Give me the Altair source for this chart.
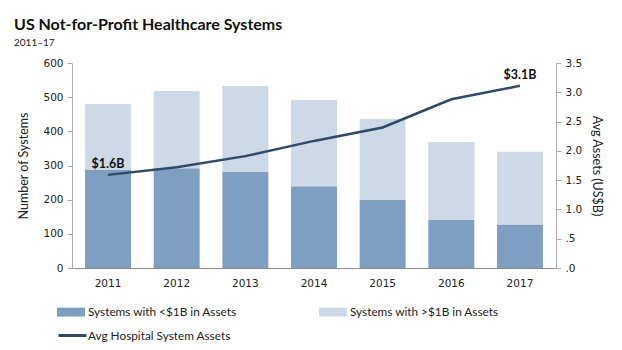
import altair as alt
import pandas as pd

years = ["2011", "2012", "2013", "2014", "2015", "2016", "2017"]
small_systems = [287, 292, 282, 239, 199, 141, 127]
total_systems = [480, 518, 533, 492, 436, 369, 340]
avg_assets = [1.59, 1.72, 1.91, 2.17, 2.40, 2.88, 3.11]
label_years = ["2011", "2017"]
label_values = [1.59, 3.11]
label_texts = ["$1.6B", "$3.1B"]

s_small = "Systems with <$1B in Assets"
s_large = "Systems with >$1B in Assets"
s_line = "Avg Hospital System Assets"

rows = []
for y, s, t in zip(years, small_systems, total_systems):
    rows.append({"year": y, "series": s_small, "value": s, "ord": 0})
    rows.append({"year": y, "series": s_large, "value": t - s, "ord": 1})
bars_df = pd.DataFrame(rows)
line_df = pd.DataFrame({"year": years, "avg": avg_assets, "series": [s_line] * len(years)})
lab_df = pd.DataFrame({"year": label_years, "avg": label_values, "text": label_texts})

FONT = "Lato"
AXFONT = "DejaVu Sans"

xenc = alt.X("year:N", sort=years, title=None,
             scale=alt.Scale(paddingInner=0.33, paddingOuter=0.19),
             axis=alt.Axis(labelAngle=0, ticks=False, domainColor="#8c8c8c",
                           labelFont=AXFONT, labelFontSize=10.5, labelColor="#222",
                           labelPadding=10))

bars = alt.Chart(bars_df).mark_bar().encode(
    x=xenc,
    y=alt.Y("value:Q", stack="zero",
            scale=alt.Scale(domain=[0, 600]),
            axis=alt.Axis(values=[0, 100, 200, 300, 400, 500, 600], title="Number of Systems",
                          grid=False, tickColor="#aaa", domainColor="#aaa", tickSize=5,
                          labelFont=AXFONT, labelFontSize=10.5, labelColor="#222",
                          titleFont=FONT, titleFontSize=12.5, titleFontWeight="normal",
                          titleColor="#222", titlePadding=12, labelPadding=4)),
    color=alt.Color("series:N", scale=alt.Scale(domain=[s_small, s_large],
                                                range=["#7f9fc2", "#cdd9e6"]),
                    legend=alt.Legend(title=None, orient="none", legendX=-15, legendY=235,
                                      direction="horizontal", columns=2, columnPadding=82,
                                      symbolType="M-1,-0.32H1V0.32H-1Z", symbolSize=784,
                                      symbolStrokeWidth=0, labelFont=FONT, labelFontSize=11.8,
                                      labelColor="#222", labelOffset=3, padding=0)),
    order=alt.Order("ord:Q"),
)

line = alt.Chart(line_df).mark_line(strokeWidth=2.5).encode(
    x=alt.X("year:N", sort=years),
    y=alt.Y("avg:Q", scale=alt.Scale(domain=[0, 3.5]),
            axis=alt.Axis(values=[0, 0.5, 1, 1.5, 2, 2.5, 3, 3.5], orient="right",
                          title="Avg Assets (US$B)", grid=False, tickColor="#aaa",
                          domainColor="#aaa", tickSize=5,
                          labelExpr="datum.value == 0 ? '.0' : (datum.value == 0.5 ? '.5' : format(datum.value, '.1f'))",
                          labelFont=AXFONT, labelFontSize=10.5, labelColor="#222",
                          titleFont=FONT, titleFontSize=12.5, titleFontWeight="normal",
                          titleColor="#222", titlePadding=8, labelPadding=4)),
    stroke=alt.Stroke("series:N", scale=alt.Scale(domain=[s_line], range=["#2e4a6b"]),
                      legend=alt.Legend(title=None, orient="none", legendX=-15, legendY=257,
                                        symbolType="stroke", symbolSize=784,
                                        symbolStrokeWidth=3, labelFont=FONT,
                                        labelFontSize=11.8, labelColor="#222",
                                        labelOffset=0, padding=0)),
)

labels = alt.Chart(lab_df).mark_text(baseline="bottom", align="center", dy=-4,
                                     font=FONT, fontSize=12.5, fontWeight="bold",
                                     color="#111").encode(
    x=alt.X("year:N", sort=years),
    y=alt.Y("avg:Q", scale=alt.Scale(domain=[0, 3.5]), axis=None),
    text="text:N",
)

chart = alt.layer(bars, line, labels).resolve_scale(
    y="independent", color="independent", stroke="independent"
).properties(
    width=484, height=205,
    title=alt.TitleParams("US Not-for-Profit Healthcare Systems", subtitle="2011–17",
                          anchor="start", frame="group", dx=-58, offset=10,
                          font=FONT, fontSize=16, fontWeight="bold", color="#111",
                          subtitleFont=FONT, subtitleFontSize=10, subtitleColor="#222",
                          subtitlePadding=5),
    autosize=alt.AutoSizeParams(type="none"),
    padding={"left": 72, "top": 63, "right": 66, "bottom": 82},
).configure_view(stroke=None)

chart.save("out.html", embed_options={"renderer": "svg", "actions": False})
